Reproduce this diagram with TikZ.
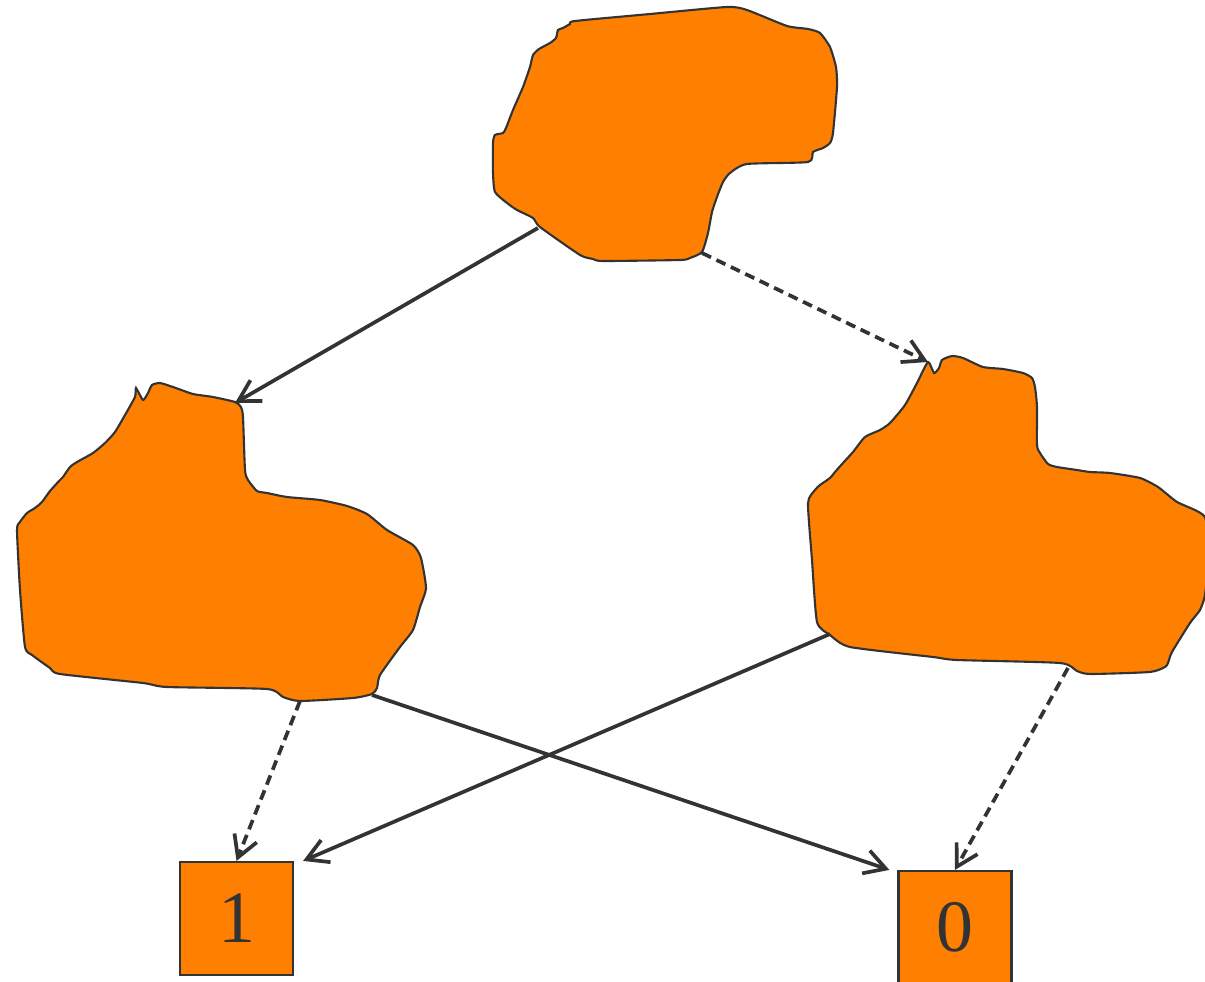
\documentclass[tikz,border=0pt]{standalone}
\usepackage{fontspec}
\setmainfont{Liberation Serif}
\usetikzlibrary{arrows.meta}

\definecolor{blobfill}{RGB}{255,127,0}
\definecolor{ink}{RGB}{51,51,51}

\begin{document}
\begin{tikzpicture}[
    x=0.01cm, y=-0.01cm,
    >={Straight Barb[length=2.1mm,width=2.4mm]},
    blob/.style={fill=blobfill, draw=ink, line width=0.6pt},
    leaf/.style={draw=ink, fill=blobfill, line width=0.6pt, minimum size=1.13cm,
                 inner sep=0pt, text=ink, font=\fontsize{21}{21}\selectfont},
    hi/.style={->, draw=ink, line width=1.05pt},
    lo/.style={hi, dash pattern=on 1mm off 0.6mm},
  ]
  \useasboundingbox (0,0) rectangle (1205,982);

  % ------------------------------------------------------------------
  % decision nodes, drawn as rough hand-cut blobs
  % ------------------------------------------------------------------
  % root
  \draw[blob] plot[smooth cycle, tension=0.35] coordinates {
      (575,21) (650,14) (727,7) (747,10) (787,26) (808,29) (820,33) (830,47)
      (836,67) (837,87) (833,133) (830,143) (823,148) (813,152) (808,162)
      (747,164) (730,173) (723,182) (717,197) (712,212) (708,233) (702,252)
      (690,258) (680,260) (603,261) (593,259) (580,255) (540,227) (533,218)
      (517,210) (507,203) (495,192) (493,173) (493,143) (495,135) (503,133)
      (506,128) (513,110) (523,87) (530,67) (533,55) (539,49) (550,43)
      (556,38) (558,30) (563,28) (570,24)};
  \coordinate (root-hi) at (538,228);
  \coordinate (root-lo) at (702,253);

  % left child
  \draw[blob] plot[smooth cycle, tension=0.35] coordinates {
      (136,388) (143,400) (148,393) (152,385) (160,383) (173,387) (193,394)
      (213,397) (235,402) (241,407) (243,417) (245,470) (248,480) (257,491)
      (267,493) (287,497) (320,500) (347,506) (367,514) (387,530) (413,545)
      (421,558) (426,588) (420,607) (413,630) (400,647) (380,675) (377,688)
      (372,694) (353,698) (300,701) (283,697) (267,689) (167,687) (143,683)
      (60,674) (50,668) (32,655) (25,647) (20,590) (17,530) (20,522) (27,513)
      (35,508) (42,502) (50,491) (60,480) (63,477) (70,467) (77,462) (93,453)
      (105,443) (115,432) (125,415) (135,397)};
  \coordinate (left-in) at (235,403);
  \coordinate (left-lo) at (300,701);
  \coordinate (left-hi) at (372,695);

  % right child
  \draw[blob] plot[smooth cycle, tension=0.35] coordinates {
      (928,362) (934,373) (939,368) (942,360) (952,356) (963,358) (983,367)
      (1003,369) (1023,373) (1032,378) (1035,387) (1037,407) (1037,445)
      (1040,453) (1048,464) (1057,467) (1077,470) (1090,472) (1110,473)
      (1140,478) (1158,487) (1177,502) (1205,517) (1208,560) (1205,595)
      (1200,610) (1190,623) (1172,652) (1168,663) (1165,667) (1150,672)
      (1090,674) (1077,671) (1060,663) (957,660) (933,657) (850,647)
      (830,635) (817,622) (812,560) (808,503) (815,490) (820,485) (830,478)
      (835,472) (843,463) (853,452) (865,437) (880,430) (890,423) (905,405)
      (917,383)};
  \coordinate (right-in) at (928,362);
  \coordinate (right-hi) at (830,634);
  \coordinate (right-lo) at (1068,668);

  % ------------------------------------------------------------------
  % terminals
  % ------------------------------------------------------------------
  \node[leaf] (one)  at (236.5,918.5) {1};
  \node[leaf] (zero) at (955,927.5)   {0};

  % ------------------------------------------------------------------
  % edges: solid = high branch, dashed = low branch
  % ------------------------------------------------------------------
  \draw[hi] (root-hi) -- (left-in);
  \draw[lo] (root-lo) -- (right-in);

  \draw[lo] (left-lo) -- (one.north);
  \draw[hi] (left-hi) -- ([xshift=-0.08cm]zero.north west);

  \draw[hi] (right-hi) -- ([xshift=0.09cm]one.north east);
  \draw[lo] (right-lo) -- (zero.north);

\end{tikzpicture}
\end{document}
